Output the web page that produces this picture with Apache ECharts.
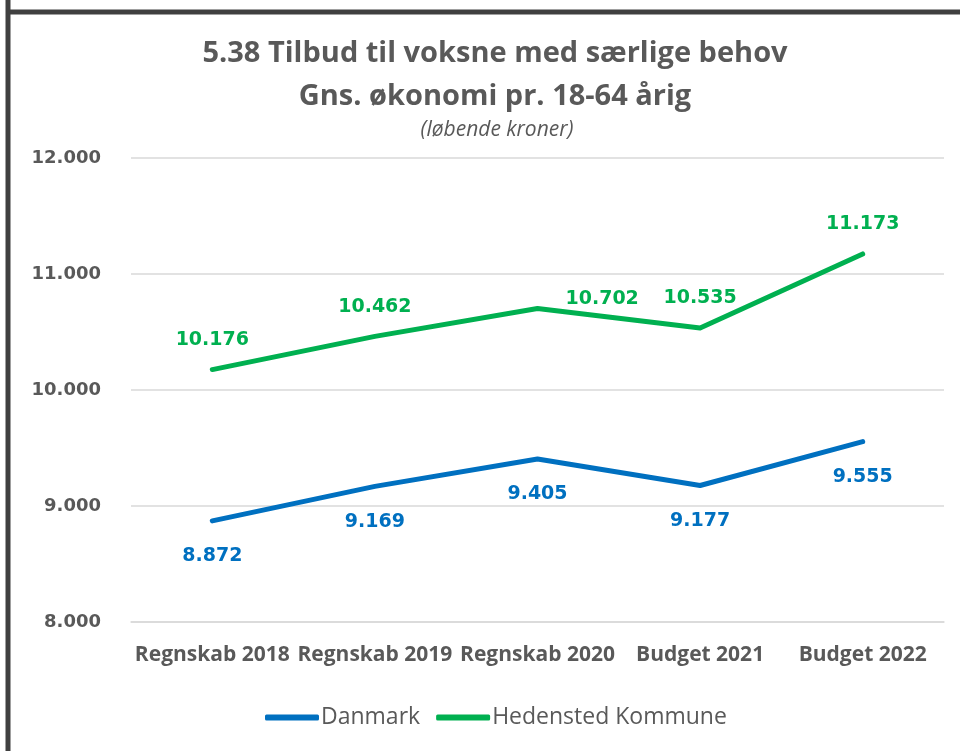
<!DOCTYPE html>
<html>
<head>
<meta charset="utf-8">
<script src="https://cdn.jsdelivr.net/npm/echarts@6/dist/echarts.min.js"></script>
<style>
  html, body { margin: 0; padding: 0; background: #fff; }
  #chart { width: 960px; height: 751px; }
</style>
</head>
<body>
<div id="chart"></div>
<script>
var categories = ['Regnskab 2018', 'Regnskab 2019', 'Regnskab 2020', 'Budget 2021', 'Budget 2022'];
var danmark = [8872, 9169, 9405, 9177, 9555];
var hedensted = [10176, 10462, 10702, 10535, 11173];
var yTicks = [8000, 9000, 10000, 11000, 12000];

function fmt(v) {
  return String(v).replace(/\B(?=(\d{3})+(?!\d))/g, '.');
}

// the 2020 label for Hedensted sits to the right of its point
var hedenstedData = hedensted.map(function (v, i) {
  if (i === 2) {
    return { value: v, label: { position: 'right', distance: 28, offset: [0, -10] } };
  }
  return v;
});

var myChart = echarts.init(document.getElementById('chart'));
var option = {
  animation: false,
  title: [{
    text: '5.38 Tilbud til voksne med særlige behov\nGns. økonomi pr. 18-64 årig',
    left: 490, top: 27, textAlign: 'center',
    textStyle: { fontFamily: 'Open Sans', fontWeight: 'bold', fontSize: 29, color: '#595959', lineHeight: 43 }
  }, {
    text: '(løbende kroner)',
    left: 492, top: 115, textAlign: 'center',
    textStyle: { fontFamily: 'Open Sans', fontStyle: 'italic', fontWeight: 'normal', fontSize: 21, color: '#595959' }
  }],
  graphic: [
    { type: 'line', shape: { x1: 8, y1: 0, x2: 8, y2: 751 }, style: { stroke: '#404040', lineWidth: 5 } },
    { type: 'line', shape: { x1: 6, y1: 12, x2: 960, y2: 12 }, style: { stroke: '#404040', lineWidth: 5 } }
  ],
  legend: {
    bottom: 17, left: 260,
    itemWidth: 54, itemHeight: 6, itemGap: 16,
    icon: 'roundRect',
    textStyle: { fontFamily: 'Open Sans', fontSize: 23, color: '#595959', padding: [0, 0, 0, -3] },
    data: ['Danmark', 'Hedensted Kommune']
  },
  grid: { left: 131, right: 16, top: 158, bottom: 129 },
  xAxis: {
    type: 'category', data: categories, boundaryGap: true,
    axisLine: { show: true, lineStyle: { color: '#d9d9d9', width: 1.5 } },
    axisTick: { show: false },
    axisLabel: { fontFamily: 'Open Sans', fontWeight: 'bold', fontSize: 21, color: '#595959', margin: 23, interval: 0 }
  },
  yAxis: {
    type: 'value', min: yTicks[0], max: yTicks[yTicks.length - 1], interval: 1000,
    axisLine: { show: false }, axisTick: { show: false },
    splitLine: { lineStyle: { color: '#d9d9d9', width: 1.5 } },
    axisLabel: { fontFamily: 'DejaVu Sans', fontWeight: 'bold', fontSize: 18, color: '#595959', margin: 30, formatter: function (v) { return fmt(v); } }
  },
  series: [{
    name: 'Danmark', type: 'line', data: danmark,
    color: '#0070C0', showSymbol: true, symbol: 'circle', symbolSize: 0,
    lineStyle: { width: 5, cap: 'round', join: 'round' },
    label: { show: true, position: 'bottom', distance: 26, color: '#0070C0', fontFamily: 'DejaVu Sans', fontWeight: 'bold', fontSize: 19, formatter: function (p) { return fmt(p.value); } }
  }, {
    name: 'Hedensted Kommune', type: 'line', data: hedenstedData,
    color: '#00B050', showSymbol: true, symbol: 'circle', symbolSize: 0,
    lineStyle: { width: 5, cap: 'round', join: 'round' },
    label: { show: true, position: 'top', distance: 20, color: '#00B050', fontFamily: 'DejaVu Sans', fontWeight: 'bold', fontSize: 19, formatter: function (p) { return fmt(p.value); } }
  }]
};
myChart.setOption(option);
</script>
</body>
</html>
